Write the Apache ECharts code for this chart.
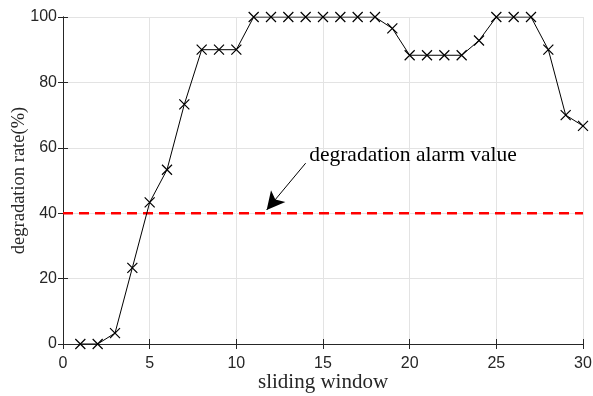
<!DOCTYPE html>
<html>
<head>
<meta charset="utf-8">
<script src="https://cdn.jsdelivr.net/npm/echarts@6/dist/echarts.min.js"></script>
<style>
html,body{margin:0;padding:0;background:#fff;}
#main{width:593px;height:396px;}
</style>
</head>
<body>
<div id="main"></div>
<script>
var windows = [1,2,3,4,5,6,7,8,9,10,11,12,13,14,15,16,17,18,19,20,21,22,23,24,25,26,27,28,29,30];
var rates = [0,0,3.33,23.3,43.3,53.3,73.3,90,90,90,100,100,100,100,100,100,100,100,96.5,88.3,88.3,88.3,88.3,92.8,100,100,100,90,70,66.7];
var alarmLine = [[0,40],[30,40]];
var arrowFrom = [14.0,55.3];
var arrowTo = [11.75,41.0];
var annoPos = [14.2,57.8];
var annoText = 'degradation alarm value';

var chart = echarts.init(document.getElementById('main'));
var axisColor = '#262626';
var tickFont = {color:'#262626',fontSize:16,fontFamily:'Liberation Sans'};

var option = {
	animation:false,
	grid:{left:63,right:10,top:17,bottom:52,outerBoundsMode:'none',containLabel:false},
	xAxis:[{
		type:'value',min:0,max:30,interval:5,
		name:'sliding window',nameLocation:'middle',nameGap:28,nameMoveOverlap:false,
		nameTextStyle:{fontFamily:'Liberation Serif',fontSize:21,color:'#262626'},
		axisLine:{lineStyle:{color:axisColor,width:1}},
		axisTick:{inside:true,length:5,lineStyle:{color:axisColor}},
		axisLabel:Object.assign({margin:12},tickFont),
		splitLine:{show:true,lineStyle:{color:'#e3e3e3',width:1}}
	},{
		type:'value',min:0,max:30,interval:5,position:'top',
		axisLine:{lineStyle:{color:axisColor,width:1}},
		axisTick:{inside:true,length:5,lineStyle:{color:axisColor}},
		axisLabel:{show:false},splitLine:{show:false}
	}],
	yAxis:[{
		type:'value',min:0,max:100,interval:20,
		name:'degradation rate(%)',nameLocation:'middle',nameGap:34,nameMoveOverlap:false,
		nameTextStyle:{fontFamily:'Liberation Serif',fontSize:18.5,color:'#262626'},
		axisLine:{show:true,lineStyle:{color:axisColor,width:1}},
		axisTick:{show:true,inside:true,length:5,lineStyle:{color:axisColor}},
		axisLabel:Object.assign({margin:6},tickFont),
		splitLine:{show:true,lineStyle:{color:'#e3e3e3',width:1}}
	},{
		type:'value',min:0,max:100,interval:20,position:'right',
		axisLine:{show:true,lineStyle:{color:axisColor,width:1}},
		axisTick:{show:true,inside:true,length:5,lineStyle:{color:axisColor}},
		axisLabel:{show:false},splitLine:{show:false}
	}],
	series:[{
		type:'line',
		data:windows.map(function(w,i){return [w,rates[i]];}),
		symbol:'path://M0,0L10,10M10,0L0,10',
		symbolSize:10,
		showAllSymbol:true,
		lineStyle:{color:'#000',width:1},
		itemStyle:{color:'none',borderColor:'#000',borderWidth:1.2},
		z:3
	},{
		type:'line',
		data:alarmLine,
		symbol:'none',
		lineStyle:{color:'#ff0000',width:2.5,type:[10,6]},
		markLine:{
			silent:true,
			symbol:['none','arrow'],
			symbolSize:[14,18],
			label:{show:false},
			lineStyle:{color:'#000',width:1,type:'solid'},
			data:[[{coord:arrowFrom},{coord:arrowTo}]]
		},
		markPoint:{
			symbol:'circle',symbolSize:0,
			label:{show:true,position:'right',distance:0,formatter:annoText,
				fontFamily:'Liberation Serif',fontSize:21.5,color:'#000'},
			data:[{coord:annoPos}]
		},
		z:2
	}]
};
chart.setOption(option);
</script>
</body>
</html>
